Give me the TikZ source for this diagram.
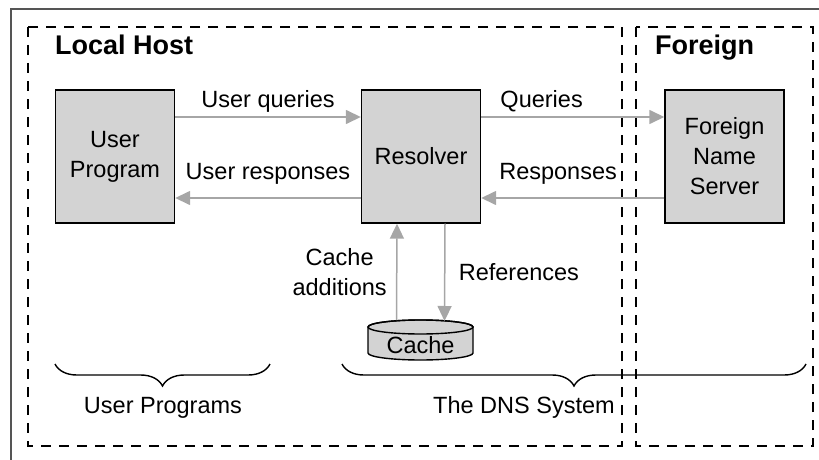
\documentclass[tikz,border=0pt]{standalone}
\usepackage{fontspec}
\setmainfont{Liberation Sans}
\usetikzlibrary{arrows.meta,decorations.pathreplacing}
\definecolor{boxgray}{HTML}{D3D3D3}
\definecolor{flowgray}{HTML}{A6A6A6}
\definecolor{framegray}{HTML}{555555}

\begin{document}
\begin{tikzpicture}[x=1pt,y=-1pt,
    box/.style={draw,line width=1.4pt,fill=boxgray,minimum width=119pt,minimum height=133pt,
      align=center,font=\fontsize{23.5}{30}\selectfont},
    flow/.style={draw=flowgray,line width=1.5pt,-{Triangle[length=15pt,width=14pt]}},
    lbl/.style={font=\fontsize{23.5}{30}\selectfont,align=center},
    title/.style={font=\fontsize{27}{30}\selectfont\bfseries,inner sep=0pt,anchor=base west},
    area/.style={line width=2.2pt,dash pattern=on 10pt off 8pt},
    brc/.style={decorate,decoration={brace,mirror,amplitude=22pt},line width=1.4pt}]
  \useasboundingbox (0,0) rectangle (819,460);
  % outer frame (cut by the page)
  \draw[framegray,line width=1.5pt] (11,460) -- (11,9) -- (819,9);
  % host areas
  \draw[area] (28,27) rectangle (622,446);
  \draw[area] (636,27) rectangle (813,446);
  \node[title] (local) at (55,55) {Local Host};
  \node[title] (foreign) at (655,55) {Foreign};
  % programs and servers
  \node[box] (prog) at (115,156.5) {User\\Program};
  \node[box] (res) at (421,156.5) {Resolver};
  \node[box] (fns) at (724.5,156.5) {Foreign\\Name\\Server};
  % cache drum
  \draw[fill=boxgray,line width=1.4pt] (368,327) -- (368,353)
    arc[start angle=180,end angle=0,x radius=52.5,y radius=7] -- (473,327)
    arc[start angle=0,end angle=-180,x radius=52.5,y radius=7] -- cycle;
  \draw[line width=1.4pt] (420.5,327) ellipse[x radius=52.5,y radius=7];
  \node[lbl] (cache) at (420.5,345) {Cache};
  \coordinate (cachetop) at (420.5,320);
  % queries and responses
  \draw[flow] ([yshift=39.5pt]prog.east) -- ([yshift=39.5pt]res.west)
    node[lbl,midway,above=1pt] {User queries};
  \draw[flow] ([yshift=-41.5pt]res.west) -- ([yshift=-41.5pt]prog.east)
    node[lbl,midway,above=10pt] {User responses};
  \draw[flow] ([yshift=39.5pt]res.east) -- ([yshift=39.5pt]fns.west)
    node[lbl,pos=0.33,above=1pt] {Queries};
  \draw[flow] ([yshift=-41.5pt]fns.west) -- ([yshift=-41.5pt]res.east)
    node[lbl,pos=0.58,above=10pt] {Responses};
  % cache traffic
  \draw[flow] ([xshift=-24pt]cachetop) -- ([xshift=-24pt]res.south)
    node[lbl,midway,left=6pt] {Cache\\additions};
  \draw[flow] ([xshift=24pt]res.south) -- ([xshift=24pt,yshift=-1pt]cachetop)
    node[lbl,midway,right=10pt] {References};
  % groupings
  \draw[brc] (55,364) -- (270,364);
  \draw[brc] (342,364) -- (806,364);
  \node[lbl,anchor=base] (ulbl) at (163,413) {User Programs};
  \node[lbl,anchor=base] (dlbl) at (524,413) {The DNS System};
\end{tikzpicture}
\end{document}
